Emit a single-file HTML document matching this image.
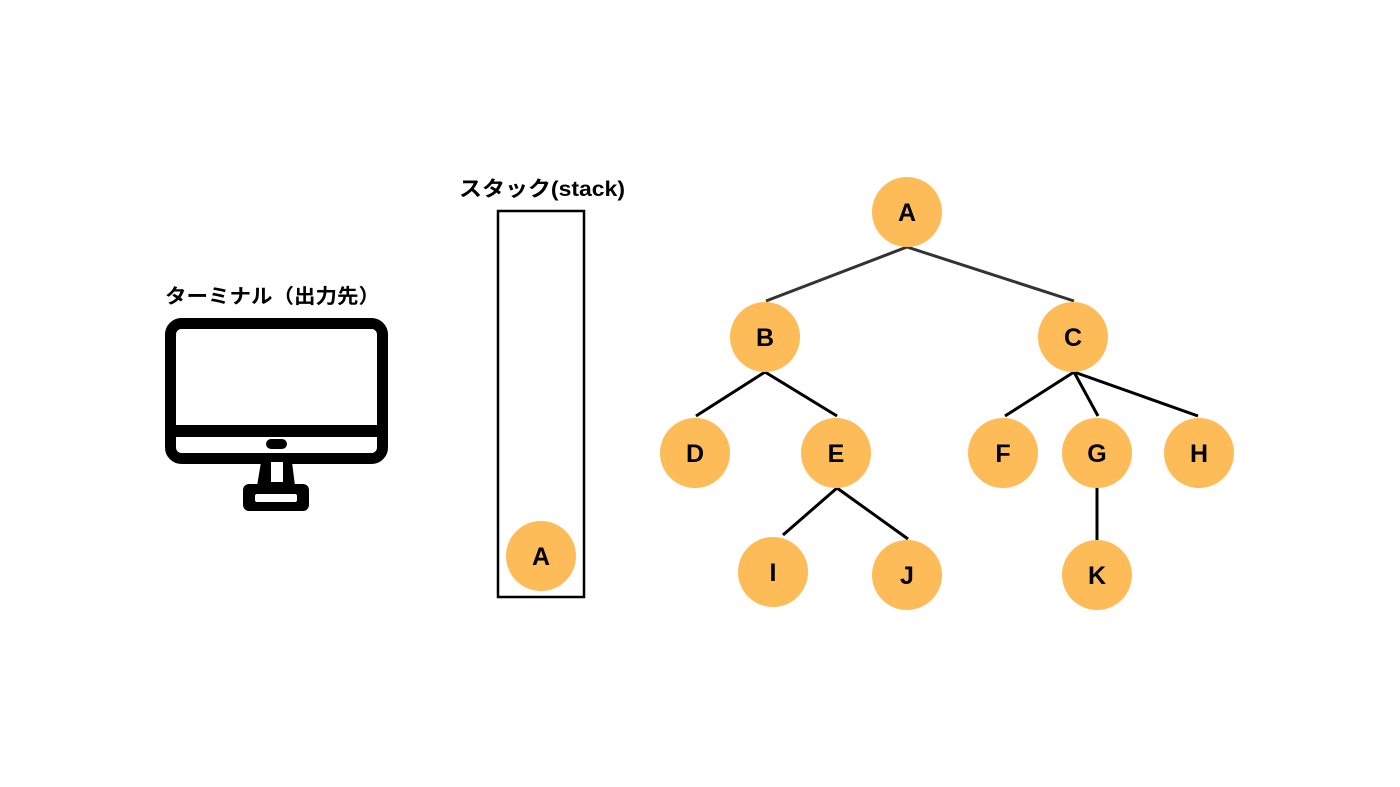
<!DOCTYPE html>
<html><head><meta charset="utf-8"><style>
html,body{margin:0;padding:0;background:#fff;width:1400px;height:787px;overflow:hidden}
svg{display:block}
text{font-family:"Liberation Sans","Noto Sans CJK JP",sans-serif;font-weight:bold;fill:#000}
</style></head><body>
<svg width="1400" height="787" viewBox="0 0 1400 787">
<text x="165" y="303" font-size="20" textLength="215" lengthAdjust="spacingAndGlyphs">ターミナル（出力先）</text>
<text x="459" y="196" font-size="21" textLength="166" lengthAdjust="spacingAndGlyphs">スタック(stack)</text>
<!-- monitor -->
<rect x="170.5" y="323.5" width="212" height="135" rx="11" fill="none" stroke="#000" stroke-width="11"/>
<rect x="170" y="425" width="213" height="12" fill="#000"/>
<rect x="266" y="439" width="21" height="10" rx="5" fill="#000"/>
<path d="M261 462 L292 462 L295 486 L257 486 Z" fill="#000"/>
<rect x="271" y="462" width="12" height="20" fill="#fff"/>
<rect x="243" y="484" width="66" height="27" rx="6" fill="#000"/>
<rect x="255" y="494" width="42" height="8" rx="2" fill="#fff"/>
<!-- stack -->
<rect x="498" y="211" width="86" height="386" fill="none" stroke="#000" stroke-width="2.5"/>
<g stroke-width="3" stroke="#333">
<line x1="907" y1="247" x2="766" y2="301"/>
<line x1="907" y1="247" x2="1074" y2="301"/>
</g>
<g stroke-width="3" stroke="#000">
<line x1="765" y1="372" x2="696" y2="416"/>
<line x1="765" y1="372" x2="837" y2="416"/>
<line x1="1074" y1="372" x2="1005" y2="416"/>
<line x1="1074" y1="372" x2="1098" y2="416"/>
<line x1="1074" y1="372" x2="1198" y2="416"/>
<line x1="837" y1="488" x2="783" y2="535"/>
<line x1="837" y1="488" x2="908" y2="539"/>
<line x1="1097" y1="488" x2="1097" y2="540"/>
</g>
<g fill="#FEBC59">
<circle cx="541" cy="556" r="35"/>
<circle cx="907" cy="212" r="35"/>
<circle cx="765" cy="337" r="35"/>
<circle cx="1073" cy="337" r="35"/>
<circle cx="695" cy="453" r="35"/>
<circle cx="836" cy="453" r="35"/>
<circle cx="1003" cy="453" r="35"/>
<circle cx="1097" cy="453" r="35"/>
<circle cx="1199" cy="453" r="35"/>
<circle cx="773" cy="572" r="35"/>
<circle cx="907" cy="575" r="35"/>
<circle cx="1097" cy="575" r="35"/>
</g>
<g font-size="25" text-anchor="middle">
<text x="541" y="565">A</text>
<text x="907" y="221">A</text>
<text x="765" y="346">B</text>
<text x="1073" y="346">C</text>
<text x="695" y="462">D</text>
<text x="836" y="462">E</text>
<text x="1003" y="462">F</text>
<text x="1097" y="462">G</text>
<text x="1199" y="462">H</text>
<text x="773" y="581">I</text>
<text x="907" y="584">J</text>
<text x="1097" y="584">K</text>
</g>
</svg>
</body></html>
